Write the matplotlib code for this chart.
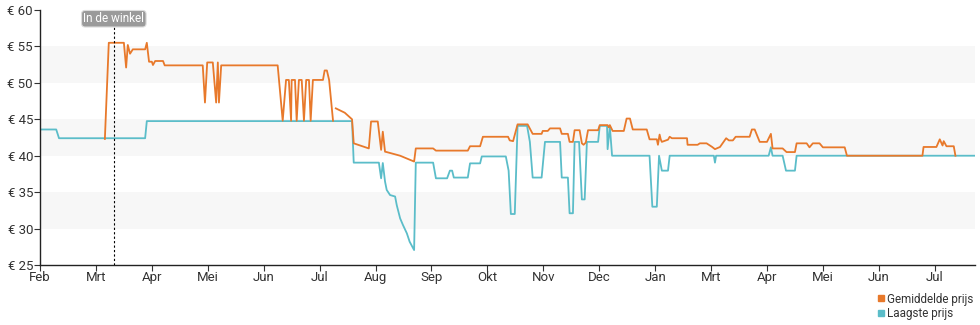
import matplotlib
matplotlib.use("Agg")
import matplotlib.pyplot as plt
import numpy as np
from matplotlib.lines import Line2D

plt.rcParams["font.family"] = ["Roboto", "DejaVu Sans"]

# ---------------------------------------------------------------------------
# Data (x = position in months from the first "Feb" tick)
# ---------------------------------------------------------------------------
month_labels = ["Feb", "Mrt", "Apr", "Mei", "Jun", "Jul", "Aug", "Sep", "Okt",
                "Nov", "Dec", "Jan", "Mrt", "Apr", "Mei", "Jun", "Jul"]

avg_x = [1.16, 1.23, 1.50, 1.54, 1.57, 1.61, 1.66, 1.88, 1.91, 1.95, 2.00, 2.02,
         2.06, 2.20, 2.23, 2.91, 2.95, 2.99, 3.09, 3.15, 3.18, 3.20, 3.24, 4.25,
         4.31, 4.34, 4.40, 4.45, 4.49, 4.50, 4.56, 4.59, 4.63, 4.68, 4.72, 4.76,
         4.81, 4.84, 4.88, 5.06, 5.09, 5.13, 5.17, 5.24, 5.265,
         5.29, 5.45, 5.58, 5.61, 5.88, 5.92, 6.04, 6.10, 6.13, 6.17, 6.20, 6.44,
         6.69, 6.72, 7.03, 7.08, 7.65, 7.69, 7.87, 7.92, 8.37, 8.40, 8.46, 8.54,
         8.72, 8.81, 8.97, 8.99, 9.08, 9.12, 9.30, 9.33, 9.44, 9.47, 9.53, 9.56,
         9.65, 9.69, 9.72, 9.76, 9.80, 9.98, 10.01, 10.15, 10.17, 10.19, 10.24,
         10.44, 10.49, 10.55, 10.60, 10.85, 10.90, 11.03, 11.05, 11.08, 11.10,
         11.12, 11.23, 11.26, 11.30, 11.57, 11.58, 11.76, 11.80, 11.92, 12.02,
         12.07, 12.16, 12.27, 12.32, 12.39, 12.44, 12.69, 12.73, 12.78, 12.87,
         13.00, 13.07, 13.10, 13.28, 13.35, 13.50, 13.53, 13.71, 13.76, 13.82,
         13.94, 14.00, 14.39, 14.43, 15.78, 15.80, 16.03, 16.09, 16.14, 16.16,
         16.21, 16.34, 16.37]
avg_price = [42.3, 55.5, 55.5, 52.1, 55.2, 54.0, 54.6, 54.6, 55.5, 52.9, 52.9, 52.45,
             53.0, 53.0, 52.4, 52.4, 47.3, 52.8, 52.8, 47.3, 52.8, 47.3, 52.4, 52.4,
             47.4, 44.8, 50.4, 50.4, 44.8, 50.4, 50.4, 44.8, 50.4, 50.4, 44.8, 50.4,
             50.4, 44.8, 50.4, 50.4, 51.7, 51.7, 50.4, 44.8, np.nan,
             46.5, 45.9, 45.0, 41.7, 41.0, 44.7, 44.7, 40.8, 43.3, 40.55, 40.5, 40.0,
             39.2, 41.0, 41.0, 40.7, 40.7, 41.3, 41.3, 42.6, 42.6, 42.1, 42.0, 44.3,
             44.3, 43.0, 43.0, 43.4, 43.4, 43.75, 43.75, 43.0, 43.0, 41.9, 41.9, 43.5,
             43.5, 41.7, 41.5, 41.8, 43.5, 43.5, 44.2, 44.2, 43.9, 44.2, 43.4,
             43.4, 45.1, 45.1, 43.6, 43.6, 42.25, 42.25, 41.5, 42.9, 42.25,
             41.9, 42.2, 42.6, 42.4, 42.4, 41.5, 41.5, 41.7, 41.7, 41.2,
             40.9, 41.2, 42.4, 42.1, 42.1, 42.6, 42.6, 43.6, 43.6, 41.9,
             41.9, 43.0, 41.0, 41.0, 40.5, 40.5, 41.7, 41.7, 41.15, 41.7,
             41.7, 41.15, 41.15, 40.0, 40.0, 41.2, 41.2, 42.25, 41.4, 42.0,
             41.3, 41.3, 40.0]

low_x = [0.00, 0.29, 0.34, 1.88, 1.91, 5.58, 5.61, 6.06, 6.10, 6.13, 6.17, 6.20,
         6.26, 6.35, 6.38, 6.44, 6.49, 6.56, 6.61, 6.69, 6.72, 7.03, 7.08, 7.28,
         7.33, 7.37, 7.40, 7.65, 7.69, 7.87, 7.90, 8.33, 8.38, 8.42, 8.49, 8.54,
         8.71, 8.76, 8.81, 8.97, 9.03, 9.30, 9.33, 9.44, 9.47, 9.53, 9.56, 9.64,
         9.69, 9.74, 9.78, 9.98, 10.01, 10.14, 10.15, 10.19, 10.23, 10.90, 10.95,
         11.03, 11.07, 11.12, 11.23, 11.26, 12.05, 12.07, 12.09, 13.03, 13.07,
         13.10, 13.28, 13.34, 13.50, 13.53, 16.71]
low_price = [43.6, 43.6, 42.4, 42.4, 44.75, 44.75, 39.05, 39.05, 36.9, 39.0, 36.45, 35.3,
             34.6, 34.4, 33.2, 31.4, 30.5, 29.35, 28.2, 27.05, 39.05, 39.05, 36.9, 36.9,
             37.95, 37.95, 37.0, 37.0, 38.95, 38.95, 39.9, 39.9, 37.95, 32.0, 32.0, 44.1,
             44.1, 41.9, 37.0, 37.0, 41.9, 41.9, 37.0, 37.0, 32.1, 32.1, 41.9, 41.9,
             34.0, 34.0, 41.9, 41.9, 44.1, 44.1, 40.9, 44.0, 40.0, 40.0, 33.0,
             33.0, 40.0, 37.95, 37.95, 40.0, 40.0, 39.05, 40.0, 40.0, 41.15,
             40.0, 40.0, 37.95, 37.95, 40.0, 40.0]

store_x = 1.32
store_label = "In de winkel"
series_names = ["Gemiddelde prijs", "Laagste prijs"]
series_colors = ["#E8792B", "#5BBDC9"]

# ---------------------------------------------------------------------------
# Plot
# ---------------------------------------------------------------------------
fig = plt.figure(figsize=(9.8, 3.25), dpi=100)
ax = fig.add_axes([40 / 980, 1 - 265 / 325, 935 / 980, 255 / 325])

# alternating background bands
for lo in (30, 40, 50):
    ax.axhspan(lo, lo + 5, color="#f7f7f7", zorder=0, lw=0)

ax.plot(low_x, low_price, color=series_colors[1], lw=1.3, zorder=2)
ax.plot(avg_x, avg_price, color=series_colors[0], lw=1.3, zorder=3)

ax.axvline(store_x, color="black", ls=(0, (2, 2)), lw=0.8, zorder=4)
ax.text(store_x, 58.8, store_label, ha="center", va="center", fontsize=8.5,
        color="white", zorder=5,
        bbox=dict(boxstyle="round,pad=0.15,rounding_size=0.3", fc="#9a9a9a",
                  ec="#dddddd", lw=0.8))

ax.set_xlim(0, 16.72)
ax.set_ylim(25, 60)
ax.set_xticks(range(len(month_labels)))
ax.set_xticklabels(month_labels)
ax.set_yticks(range(25, 61, 5))
ax.set_yticklabels([f"€ {v}" for v in range(25, 61, 5)])
ax.tick_params(axis="both", labelsize=9.5, colors="#333333", length=4, width=0.8,
               pad=1)
ax.tick_params(axis="x", pad=0.5)
for s in ("top", "right"):
    ax.spines[s].set_visible(False)
for s in ("left", "bottom"):
    ax.spines[s].set_color("#222222")
    ax.spines[s].set_linewidth(1.0)

handles = [Line2D([], [], marker="s", ls="none", color=c, markersize=5)
           for c in series_colors]
fig.legend(handles, series_names, loc="upper right", bbox_to_anchor=(0.993, 0.10),
           frameon=False, fontsize=8.4, handletextpad=0.0, labelspacing=0.15,
           borderpad=0.0, borderaxespad=0.0, handlelength=1.0,
           labelcolor="#333333")

fig.savefig("out.png", dpi=100)
